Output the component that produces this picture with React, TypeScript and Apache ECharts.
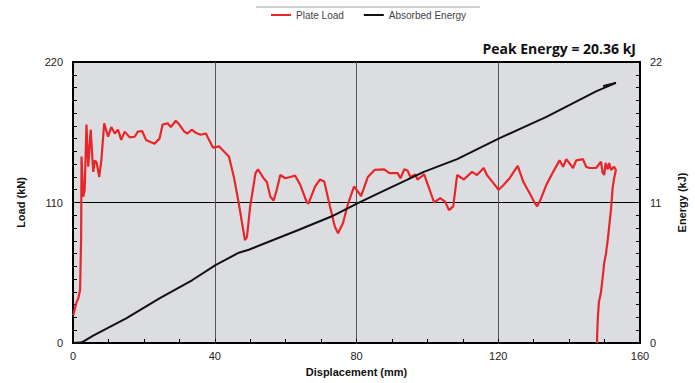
import React, { useEffect, useRef } from "react";
import * as echarts from "echarts";

const loadX = [0.1, 1.0, 1.5, 2.0, 2.3, 2.4, 2.9, 3.3, 3.8, 4.3, 5.0, 5.7, 6.2, 6.7, 7.4, 8.0, 8.8, 9.9, 10.8, 11.8, 12.7, 13.6, 14.6, 16.0, 17.4, 18.3, 19.5, 20.6, 23.0, 24.4, 25.3, 26.7, 27.6, 29.0, 30.0, 31.4, 32.3, 33.5, 34.6, 36.0, 37.5, 38.4, 39.5, 41.2, 42.6, 44.0, 45.4, 46.8, 47.7, 48.5, 49.1, 50.0, 51.5, 52.2, 53.8, 54.7, 55.7, 56.6, 57.5, 58.5, 59.9, 61.3, 62.7, 64.1, 65.9, 66.4, 68.3, 69.7, 70.9, 72.5, 73.9, 74.8, 76.2, 77.6, 79.3, 80.4, 81.3, 83.2, 85.1, 87.8, 89.3, 91.6, 92.4, 93.5, 94.4, 95.2, 96.6, 97.2, 99.1, 100.5, 101.9, 103.6, 105.0, 106.1, 107.3, 108.4, 110.3, 112.6, 114.0, 115.9, 116.8, 118.7, 120.1, 121.5, 123.2, 125.5, 127.1, 128.9, 130.3, 131.0, 131.7, 133.6, 135.5, 137.3, 138.3, 139.2, 141.1, 142.0, 143.9, 144.8, 145.7, 147.6, 149.0, 149.4, 149.9, 150.3, 150.9, 151.3, 151.8, 152.7, 153.2, 152.7, 152.3, 151.8, 150.9, 150.4, 149.9, 149.5, 149.0, 148.4, 148.1, 147.9, 147.9];
const loadY = [22, 32, 35, 41.5, 83, 146, 114.5, 120, 171, 138, 167, 134, 143, 141, 130, 143, 172, 161.5, 169, 164, 167, 159, 165.5, 161, 161.5, 165.5, 166, 159, 156, 160, 171, 172, 169, 174, 171, 165.5, 164, 167, 164.7, 163, 164, 159, 153, 154, 150, 146, 130, 109, 94, 80.6, 83, 107, 133, 136, 129, 126, 114.5, 111.5, 120, 131.5, 129, 130, 131, 124, 110.7, 109, 122.5, 128, 126.5, 107, 91, 86, 94, 109, 122.5, 118.5, 115, 130, 135.5, 136, 133, 133, 129, 136, 135, 130, 132, 128, 132, 121, 110, 113.5, 110.7, 104, 107, 131.5, 128, 134, 131.5, 137, 131.5, 125, 120, 123.7, 129, 138.6, 126, 117, 109.6, 107, 110.7, 124, 134, 143, 138, 144, 137, 143, 144, 138, 137, 137, 142, 134, 131.5, 141, 136, 141, 135.5, 138, 135.5, 129, 122, 104, 80.7, 70, 62.6, 52, 40, 32, 19.6, 5, 0];

const energyX = [0, 2.0, 3.0, 5.7, 10.0, 15.0, 24.4, 33.7, 40.2, 46.8, 49.6, 63.6, 72.9, 80.4, 86.0, 99.0, 108.4, 120.1, 130.8, 133.6, 147.6, 153.2, 150.5, 149.6];
const energyY = [0, 0.03, 0.12, 0.57, 1.2, 1.93, 3.5, 4.93, 6.1, 7.07, 7.3, 8.85, 9.9, 10.95, 11.7, 13.4, 14.4, 16.0, 17.35, 17.7, 19.7, 20.36, 20.18, 20.1];

const xTicks = [0, 40, 80, 120, 160];
const loadTicks = [0, 110, 220];
const energyTicks = [0, 11, 22];

export default function App() {
  const ref = useRef<HTMLDivElement>(null);
  useEffect(() => {
    if (!ref.current) return;
    const chart = echarts.init(ref.current, undefined, { renderer: "svg" });
    const font = "Liberation Sans, Arial, sans-serif";
    chart.setOption({
      animation: false,
      backgroundColor: "#ffffff",
      textStyle: { fontFamily: font },
      title: {
        text: "Peak Energy = 20.36 kJ",
        right: 54,
        top: 36,
        textStyle: { fontFamily: "Open Sans, sans-serif", fontWeight: "bold", fontSize: 14, color: "#111" },
      },
      legend: {
        top: 5,
        left: 266,
        itemWidth: 20,
        itemHeight: 2,
        itemGap: 20,
        icon: "rect",
        textStyle: { fontSize: 10, color: "#444", fontFamily: font },
        data: ["Plate Load", "Absorbed Energy"],
      },
      graphic: [
        { type: "line", shape: { x1: 256, y1: 7, x2: 480, y2: 7 }, style: { stroke: "#cfcfcf", lineWidth: 2 } },
      ],
      grid: {
        left: 73,
        right: 46,
        top: 62,
        bottom: 40,
        show: true,
        backgroundColor: "#dcdde0",
        borderColor: "#000",
        borderWidth: 2,
      },
      xAxis: {
        type: "value",
        min: xTicks[0],
        max: xTicks[xTicks.length - 1],
        interval: 40,
        name: "Displacement (mm)",
        nameLocation: "middle",
        nameGap: 23,
        nameTextStyle: { fontWeight: "bold", fontSize: 11, color: "#111", fontFamily: font },
        axisLine: { show: true, lineStyle: { color: "#000", width: 2 } },
        axisTick: { show: true, inside: true, length: 4, lineStyle: { color: "#000" } },
        minorTick: { show: true, splitNumber: 4, length: 4, lineStyle: { color: "#000" } },
        axisLabel: { fontSize: 11, color: "#222", margin: 7 },
        splitLine: { show: true, lineStyle: { color: "#555", width: 1 } },
      },
      yAxis: [
        {
          type: "value",
          min: loadTicks[0],
          max: loadTicks[2],
          interval: 110,
          name: "Load (kN)",
          nameLocation: "middle",
          nameRotate: 90,
          nameGap: 47,
          nameTextStyle: { fontWeight: "bold", fontSize: 11, color: "#111", fontFamily: font },
          axisLine: { show: true, lineStyle: { color: "#000", width: 2 } },
          axisTick: { show: true, inside: true, length: 4, lineStyle: { color: "#000" } },
          minorTick: { show: true, splitNumber: 11, length: 4, lineStyle: { color: "#000" } },
          axisLabel: { fontSize: 11, color: "#222", margin: 10 },
          splitLine: { show: true, lineStyle: { color: "#000", width: 1 } },
        },
        {
          type: "value",
          min: energyTicks[0],
          max: energyTicks[2],
          interval: 11,
          position: "right",
          name: "Energy (kJ)",
          nameLocation: "middle",
          nameRotate: 90,
          nameGap: 36,
          nameTextStyle: { fontWeight: "bold", fontSize: 11, color: "#111", fontFamily: font },
          axisLine: { show: true, lineStyle: { color: "#000", width: 2 } },
          axisTick: { show: true, inside: true, length: 4, lineStyle: { color: "#000" } },
          minorTick: { show: true, splitNumber: 11, length: 4, lineStyle: { color: "#000" } },
          axisLabel: { fontSize: 11, color: "#222", margin: 10 },
          splitLine: { show: false },
        },
      ],
      series: [
        {
          name: "Plate Load",
          type: "line",
          yAxisIndex: 0,
          symbol: "none",
          lineStyle: { color: "#e8262a", width: 2.2 },
          itemStyle: { color: "#e8262a" },
          data: loadX.map((x, i) => [x, loadY[i]]),
          z: 3,
        },
        {
          name: "Absorbed Energy",
          type: "line",
          yAxisIndex: 1,
          symbol: "none",
          lineStyle: { color: "#111", width: 2 },
          itemStyle: { color: "#111" },
          data: energyX.map((x, i) => [x, energyY[i]]),
          z: 4,
        },
      ],
    });
    return () => chart.dispose();
  }, []);
  return <div ref={ref} style={{ width: 695, height: 383, position: "absolute", left: 0, top: 0 }} />;
}
